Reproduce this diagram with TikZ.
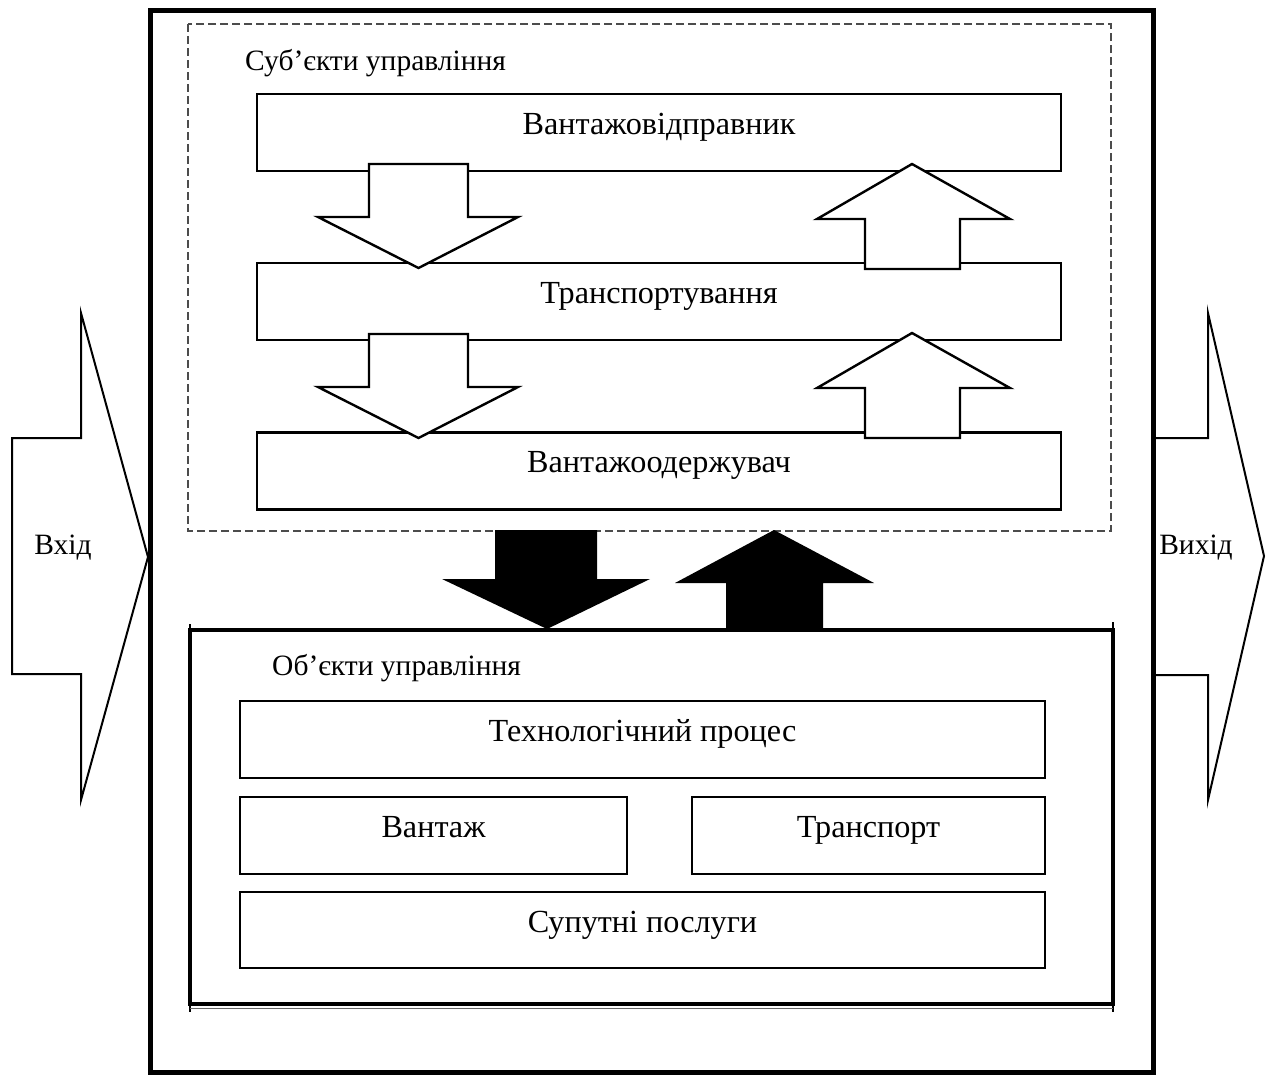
\documentclass[tikz,border=0pt]{standalone}
\usepackage{fontspec}
\setmainfont{Liberation Serif}
\usetikzlibrary{positioning}

\begin{document}
\begin{tikzpicture}[x=1pt, y=-1pt, node distance=89.5pt,
  font=\fontsize{29.5}{35}\selectfont]
\tikzstyle{box}=[draw, line width=2.6pt, minimum width=804pt,
  minimum height=77pt, font=\fontsize{32.2}{38}\selectfont,
  text height=22pt, text depth=18pt]
\tikzstyle{hollow}=[draw, line width=2.4pt, fill=white, line join=miter]
\tikzstyle{filled}=[fill=black]
\tikzstyle{lbl}=[anchor=base west, inner sep=0pt]
\useasboundingbox (0,0) rectangle (1272,1077);
% outer frame
\draw[line width=5pt] (150.5,10) rectangle (1153,1072);
% subjects of control
\draw[dashed, dash pattern=on 8pt off 4pt, line width=1.2pt, black!70]
  (188,24) rectangle (1111,531);
\node[lbl] (subj) at (245,70) {Суб’єкти управління};
\node[box] (sender) at (659,132.5) {Вантажовідправник};
\node[box, below=of sender] (carriage) {Транспортування};
\node[box, below=of carriage] (receiver) {Вантажоодержувач};
\draw[hollow] (369,164) -- (468,164) -- (468,217) -- (518,217) -- (418.5,268)
  -- (318,217) -- (369,217) -- cycle;
\draw[hollow] (369,334) -- (468,334) -- (468,387) -- (518,387) -- (418.5,438)
  -- (318,387) -- (369,387) -- cycle;
\draw[hollow] (912,164) -- (1010,219) -- (960,219) -- (960,269) -- (865,269)
  -- (865,219) -- (817,219) -- cycle;
\draw[hollow] (912,333) -- (1010,388) -- (960,388) -- (960,438) -- (865,438)
  -- (865,388) -- (817,388) -- cycle;
% control links
\fill[filled] (495,530) -- (597,530) -- (597,579) -- (650,579) -- (547,629)
  -- (442,579) -- (495,579) -- cycle;
\fill[filled] (774,530) -- (874,583) -- (823,583) -- (823,629) -- (726,629)
  -- (726,583) -- (675,583) -- cycle;
% objects of control
\draw[line width=4pt] (189.5,630) rectangle (1113,1004);
\draw[line width=2pt] (189.5,624) -- (189.5,1012);
\draw[line width=2pt] (1113,622) -- (1113,1012);
\draw[line width=1pt, black!60] (189.5,1008) -- (1113,1008);
\node[lbl] (obj) at (272,675) {Об’єкти управління};
\node[box, minimum width=805pt] (process) at (642.5,739.5) {Технологічний процес};
\node[box, minimum width=387pt] (cargo) at (433.5,835.5) {Вантаж};
\node[box, minimum width=353pt] (vehicle) at (868.5,835.5) {Транспорт};
\node[box, minimum width=805pt, minimum height=76pt] (services) at (642.5,930)
  {Супутні послуги};
% input and output
\draw[line width=2pt, line join=miter] (12,438) -- (81,438) -- (81,313) -- (148,557)
  -- (81,800) -- (81,674) -- (12,674) -- cycle;
\node (input) at (63,548) {Вхід};
\draw[line width=2pt, line join=miter] (1153,438) -- (1208,438) -- (1208,313)
  -- (1264,556) -- (1208,800) -- (1208,675) -- (1153,675);
\node (output) at (1196,548) {Вихід};
\end{tikzpicture}
\end{document}
